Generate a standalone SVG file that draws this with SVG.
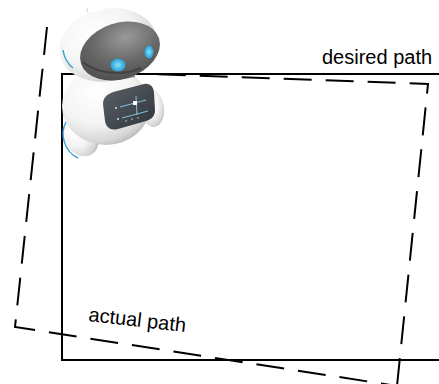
<svg xmlns="http://www.w3.org/2000/svg" width="439" height="384" viewBox="0 0 439 384">
  <style>
    .path-solid { fill: none; stroke: #000; stroke-width: 2; }
    .path-dashed { fill: none; stroke: #000; stroke-width: 2; stroke-dasharray: 28 14; }
    .label { font-family: "Liberation Sans", Arial, sans-serif; font-size: 20px; fill: #000; }
  </style>
  <defs>
    <radialGradient id="shellShade" cx="0.38" cy="0.32" r="0.75">
      <stop offset="0" stop-color="#ffffff"/>
      <stop offset="0.55" stop-color="#f4f4f4"/>
      <stop offset="0.85" stop-color="#d6d6d6"/>
      <stop offset="1" stop-color="#b0b0b0"/>
    </radialGradient>
    <radialGradient id="visorShade" cx="0.62" cy="0.3" r="0.85">
      <stop offset="0" stop-color="#9a9a9a"/>
      <stop offset="0.45" stop-color="#6c6c6c"/>
      <stop offset="1" stop-color="#464646"/>
    </radialGradient>
    <radialGradient id="eyeGlow" cx="0.5" cy="0.5" r="0.5">
      <stop offset="0" stop-color="#7fe3ff"/>
      <stop offset="1" stop-color="#2a9fd6"/>
    </radialGradient>
    <linearGradient id="screenShade" x1="0" y1="0" x2="1" y2="1">
      <stop offset="0" stop-color="#5b6268"/>
      <stop offset="1" stop-color="#30353a"/>
    </linearGradient>
  </defs>

  <!-- planned route -->
  <g id="desired-path">
    <polyline class="path-solid" points="440,74 62,74 62,360 440,360"/>
    <text class="label" x="322" y="64">desired path</text>
  </g>

  <!-- driven route -->
  <g id="actual-path">
    <polyline class="path-dashed" points="47,27 15,327 397,386"/>
    <polyline class="path-dashed" points="397,386 428,84 150,74"/>
    <text class="label" x="88" y="321" transform="rotate(6.5 88 321)">actual path</text>
  </g>

  <!-- robot -->
  <g id="robot">
    <!-- lower left wheel -->
    <ellipse cx="81" cy="135" rx="17" ry="22" transform="rotate(-25 81 135)" fill="url(#shellShade)"/>
    <path d="M66,122 C59,135 65,152 78,158" fill="none" stroke="#3aa0d8" stroke-width="1.5"/>
    <!-- right arm -->
    <ellipse cx="152" cy="108" rx="12" ry="19" transform="rotate(-8 152 108)" fill="url(#shellShade)"/>
    <!-- body -->
    <ellipse cx="106" cy="106" rx="44" ry="39" fill="url(#shellShade)"/>
    <!-- chest screen -->
    <path d="M103,104 C103,96 109,93 117,91 L144,84 C150,83 154,87 154,93 L155,110 C155,116 152,119 146,121 L118,129 C110,131 106,127 105,121 Z" fill="url(#screenShade)"/>
    <g stroke="#8fdcff" stroke-width="0.8" fill="none">
      <path d="M120,107 L146,100"/>
      <path d="M122,118 L148,111"/>
      <path d="M136,96 L137,115"/>
    </g>
    <rect x="133" y="101" width="4" height="4" fill="#ffffff"/>
    <g fill="#d8f4ff">
      <circle cx="116" cy="108" r="0.9"/>
      <circle cx="118" cy="119" r="0.9"/>
      <circle cx="126" cy="121" r="0.7"/>
      <circle cx="132" cy="119" r="0.7"/>
      <circle cx="138" cy="118" r="0.7"/>
    </g>
    <!-- neck seam -->
    <path d="M82,74 C95,80 118,80 135,76" fill="none" stroke="#4a6a80" stroke-width="2" opacity="0.7"/>
    <!-- head -->
    <ellipse cx="108" cy="45" rx="49" ry="36" transform="rotate(-12 108 45)" fill="url(#shellShade)"/>
    <!-- visor -->
    <ellipse cx="120" cy="51" rx="41" ry="28" transform="rotate(-18 120 51)" fill="url(#visorShade)"/>
    <path d="M83,62 C96,73 120,77 141,68" fill="none" stroke="#2c2c2c" stroke-width="2" opacity="0.5"/>
    <!-- side accent -->
    <path d="M63,50 C64,58 68,64 73,68" fill="none" stroke="#3aa0d8" stroke-width="1.5"/>
    <!-- eyes -->
    <ellipse cx="118" cy="65" rx="7.5" ry="6.5" fill="url(#eyeGlow)"/>
    <ellipse cx="149" cy="52" rx="4.5" ry="6.5" fill="url(#eyeGlow)"/>
    <!-- antenna tip -->
    <line x1="87" y1="8" x2="88" y2="13" stroke="#d6d6d6" stroke-width="1"/>
  </g>
</svg>
